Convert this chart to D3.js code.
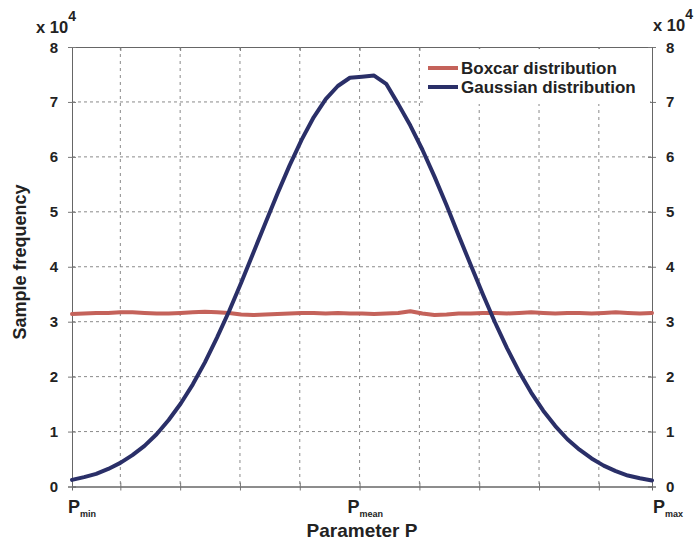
<!DOCTYPE html>
<html><head><meta charset="utf-8">
<script src="https://cdn.jsdelivr.net/npm/d3@7"></script>
<style>
body{margin:0;background:#fff;}
text{font-family:"Liberation Sans",Arial,sans-serif;font-weight:bold;fill:#222;}
</style></head>
<body><svg id="c" width="695" height="543"></svg>
<script>
// ---- data ----
const bins = d3.range(0, 49); // sample bin index across [Pmin, Pmax]
const boxcar = [3.14,3.15,3.16,3.16,3.17,3.17,3.16,3.15,3.15,3.16,3.17,3.18,3.17,3.16,3.13,3.12,3.13,3.14,3.15,3.16,3.16,3.15,3.16,3.15,3.15,3.14,3.15,3.16,3.19,3.15,3.12,3.13,3.15,3.15,3.16,3.16,3.15,3.16,3.17,3.16,3.15,3.16,3.16,3.15,3.16,3.17,3.16,3.15,3.16];
const gaussian = [0.12,0.17,0.23,0.32,0.43,0.57,0.74,0.95,1.21,1.51,1.86,2.26,2.71,3.19,3.71,4.25,4.79,5.33,5.84,6.31,6.72,7.05,7.29,7.44,7.46,7.48,7.33,6.96,6.57,6.13,5.64,5.12,4.57,4.03,3.50,2.99,2.52,2.09,1.71,1.38,1.10,0.86,0.67,0.51,0.38,0.28,0.20,0.15,0.11];
const xGridTicks = [4, 8.95, 13.9, 18.85, 23.8, 28.75, 33.7, 38.65, 43.6];
const yTicks = [0,1,2,3,4,5,6,7,8];
const xLabelPos = [0, 23.8, 48];
const xLabelSub = ["min", "mean", "max"];
const seriesNames = ["Boxcar distribution", "Gaussian distribution"];
const seriesColors = ["#c4625a", "#2a2f68"];

// ---- layout ----
const svg = d3.select("#c");
const L = 72, R = 652, T = 47, B = 486.5;
const x = d3.scaleLinear().domain([0, 48]).range([L, R]);
const y = d3.scaleLinear().domain([0, 8]).range([B, T]);

// grid
const grid = svg.append("g");
grid.selectAll(".gx").data(xGridTicks).join("line")
  .attr("x1", d => x(d)).attr("x2", d => x(d)).attr("y1", T).attr("y2", B)
  .attr("stroke", "#8a8a8a").attr("stroke-width", 1).attr("stroke-dasharray", "3,4");
grid.selectAll(".gy").data(yTicks.slice(1, -1)).join("line")
  .attr("y1", d => y(d)).attr("y2", d => y(d)).attr("x1", L).attr("x2", R)
  .attr("stroke", "#8a8a8a").attr("stroke-width", 1).attr("stroke-dasharray", "3,3");

// box axes
const ax = svg.append("g");
ax.append("g").attr("transform", `translate(0,${B})`)
  .call(d3.axisBottom(x).tickValues(xGridTicks).tickSize(4).tickFormat(""));
ax.append("g").attr("transform", `translate(0,${B})`)
  .call(d3.axisTop(x).tickValues(xGridTicks).tickSize(4).tickFormat(""));
ax.append("g").attr("transform", `translate(0,${T})`)
  .call(d3.axisBottom(x).tickValues(xGridTicks).tickSize(4).tickFormat(""));
ax.append("g").attr("transform", `translate(${L},0)`)
  .call(d3.axisLeft(y).tickValues(yTicks).tickSize(4).tickFormat(""));
ax.append("g").attr("transform", `translate(${L},0)`)
  .call(d3.axisRight(y).tickValues(yTicks).tickSize(4).tickFormat(""));
ax.append("g").attr("transform", `translate(${R},0)`)
  .call(d3.axisRight(y).tickValues(yTicks).tickSize(4).tickFormat(""));
ax.append("g").attr("transform", `translate(${R},0)`)
  .call(d3.axisLeft(y).tickValues(yTicks).tickSize(4).tickFormat(""));
ax.selectAll("path.domain").attr("stroke", "#666");
ax.selectAll(".tick line").attr("stroke", "#777");

// y tick labels
svg.append("g").selectAll("text").data(yTicks).join("text")
  .attr("x", L - 14).attr("y", d => y(d) + 5.5).attr("text-anchor", "end")
  .attr("font-size", 15).text(d => d);
svg.append("g").selectAll("text").data(yTicks).join("text")
  .attr("x", R + 14).attr("y", d => y(d) + 5.5).attr("text-anchor", "start")
  .attr("font-size", 15).text(d => d);

// exponent labels
function expo(xp, yp) {
  const t = svg.append("text").attr("x", xp).attr("y", yp).attr("font-size", 16.5);
  t.append("tspan").text("x 10");
  t.append("tspan").attr("dy", -12).attr("font-size", 14).text("4");
}
expo(36, 33);
expo(653, 31);

// x labels
xLabelPos.forEach((p, i) => {
  const off = [-4, -12, 1][i];
  const t = svg.append("text").attr("x", x(p) + off).attr("y", 513).attr("font-size", 18);
  t.append("tspan").text("P");
  t.append("tspan").attr("dy", 4).attr("font-size", 9).text(xLabelSub[i]);
});

// axis titles
svg.append("text").attr("x", (L + R) / 2).attr("y", 537).attr("text-anchor", "middle")
  .attr("font-size", 19).text("Parameter P");
svg.append("text").attr("transform", "translate(26,262) rotate(-90)").attr("text-anchor", "middle")
  .attr("font-size", 18).text("Sample frequency");

// lines
const line = d3.line().x((d, i) => x(bins[i])).y(d => y(d));
[boxcar, gaussian].forEach((s, k) => {
  svg.append("path").datum(s).attr("d", line).attr("fill", "none")
    .attr("stroke", seriesColors[k]).attr("stroke-width", 4)
    .attr("stroke-linejoin", "round").attr("stroke-linecap", "round");
});

// legend
const lg = svg.append("g");
lg.append("rect").attr("x", 424).attr("y", 49).attr("width", 226).attr("height", 55).attr("fill", "#fff");
seriesNames.forEach((n, i) => {
  const yy = 68 + i * 19;
  lg.append("line").attr("x1", 428).attr("x2", 458).attr("y1", yy).attr("y2", yy)
    .attr("stroke", seriesColors[i]).attr("stroke-width", 4);
  lg.append("text").attr("x", 461).attr("y", yy + 6).attr("font-size", 17).text(n);
});
</script></body></html>
